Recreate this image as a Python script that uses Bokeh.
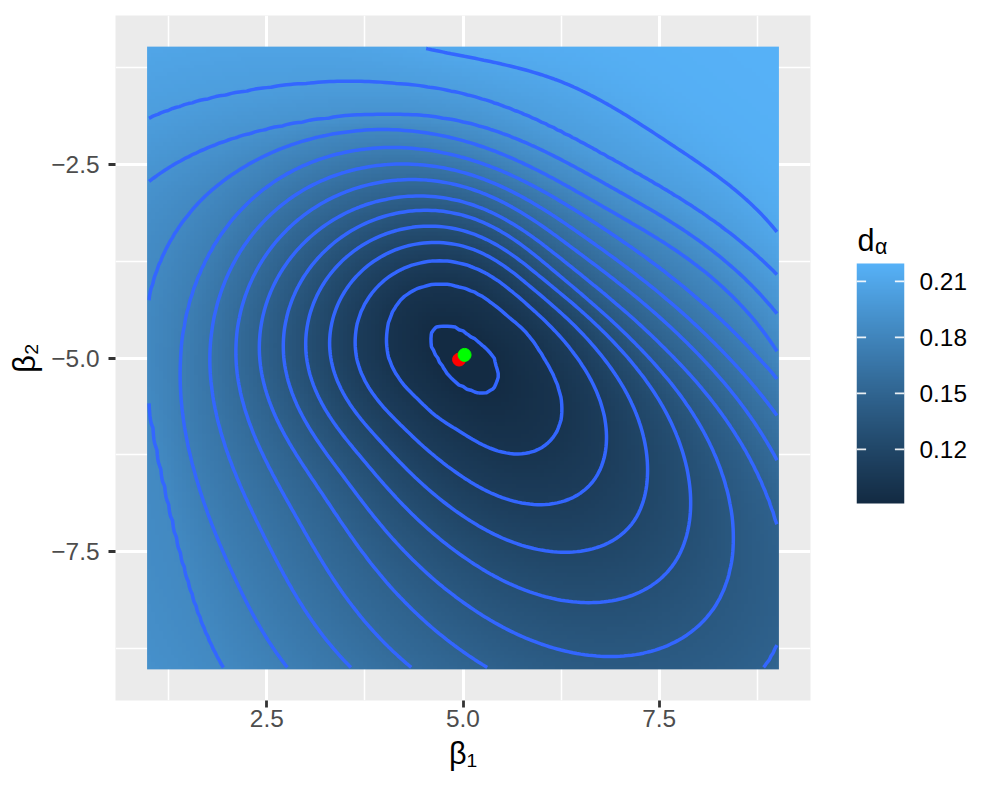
import numpy as np
from bokeh.plotting import figure
from bokeh.models import (Range1d, LinearColorMapper, FixedTicker, LinearAxis,
                          CustomJSTickFormatter, Label)
from bokeh.layouts import row
from bokeh.embed import file_html
from bokeh.resources import INLINE

# ---------------------------------------------------------------- data
BETA1_GRID = (1.0, 9.0)          # beta_1 grid of the surface
BETA2_GRID = (-9.0, -1.0)        # beta_2 grid of the surface
GRID_STEP = 0.05
D_MIN = 0.091
D_MAX = 0.2196
SURFACE_MIN_AT = (5.0, -5.0)     # valley of d_alpha

# contour levels of d_alpha (14 lines)
CONTOUR_LEVELS = [0.0919, 0.1011, 0.1103, 0.1195, 0.1287, 0.1379, 0.1471,
                  0.1563, 0.1655, 0.1747, 0.1839, 0.1931, 0.2023, 0.2115]

# for every contour level: where it was read off the picture, as
# (direction from the valley in degrees, distance from the valley)
LEVEL_ANGLES = [
    [0, 22.5, 45, 67.5, 90, 112.5, 135, 157.5, 180, 202.5, 225, 247.5, 270, 292.5, 315, 337.5],
    [0, 22.5, 45, 67.5, 90, 112.5, 135, 157.5, 180, 202.5, 225, 247.5, 270, 298.7, 315, 331.2],
    [0, 45, 90, 135, 180, 225, 270, 297.3, 315, 328.5],
    [0, 45, 90, 135, 180, 225, 270, 298.5, 315, 327.2],
    [0, 45, 90, 135, 180, 225, 270, 297.1, 315, 326.7],
    [0, 45, 90, 135, 180, 225, 270, 297.3, 315, 323.6],
    [0, 45, 90, 135, 180, 225, 270, 274.4, 295, 315, 322, 329.6],
    [0, 45, 90, 135, 180, 225, 260.5, 290, 315, 341.7],
    [0, 45, 90, 135, 180, 225, 249.7, 270, 315, 349.5],
    [0, 45, 90, 135, 180, 225, 240.3, 270, 315, 356.3],
    [2.4, 42.3, 90, 137.7, 149, 168, 180, 190, 205, 218, 232, 270, 315, 340],
    [8.7, 46.8, 90, 127.8, 149.7, 180, 225, 270, 315, 345],
    [15.4, 51.2, 89.5, 106.6, 120, 131.8, 141.3, 180, 225, 270, 315, 350],
    [0, 23.5, 45.4, 57.8, 71.2, 90.6, 97.8, 135, 180, 225, 270, 315],
]
LEVEL_RADII = [
    [0.40, 0.33, 0.29, 0.30, 0.35, 0.46, 0.54, 0.45, 0.33, 0.29, 0.29, 0.32, 0.38, 0.49, 0.57, 0.48],
    [1.02, 0.88, 0.78, 0.82, 0.91, 1.03, 1.10, 1.04, 0.95, 0.84, 0.78, 0.84, 0.96, 1.43, 1.55, 1.45],
    [1.45, 1.06, 1.22, 1.42, 1.36, 1.17, 1.53, 2.14, 2.33, 2.14],
    [1.78, 1.26, 1.45, 1.70, 1.69, 1.50, 2.03, 2.85, 3.10, 2.78],
    [2.09, 1.44, 1.65, 1.96, 2.00, 1.82, 2.55, 3.55, 3.85, 3.46],
    [2.35, 1.61, 1.85, 2.20, 2.29, 2.15, 3.14, 4.34, 4.60, 4.27],
    [2.67, 1.79, 2.02, 2.45, 2.60, 2.50, 3.79, 4.01, 5.05, 5.62, 5.32, 4.64],
    [3.02, 1.99, 2.22, 2.72, 2.90, 2.95, 4.06, 5.30, 6.00, 4.21],
    [3.36, 2.20, 2.40, 3.00, 3.23, 3.45, 4.26, 4.95, 6.60, 4.07],
    [3.74, 2.43, 2.59, 3.30, 3.60, 4.05, 4.61, 5.60, 7.20, 4.01],
    [4.00, 2.70, 2.81, 3.70, 3.93, 4.09, 4.04, 4.04, 4.15, 4.45, 5.07, 6.30, 7.80, 5.00],
    [4.05, 2.92, 3.06, 3.76, 4.63, 5.20, 6.00, 7.00, 8.40, 5.20],
    [4.15, 3.20, 3.42, 3.71, 4.10, 4.47, 5.12, 6.00, 6.80, 7.70, 9.00, 5.50],
    [4.90, 4.36, 3.80, 3.76, 3.82, 3.92, 4.00, 6.00, 7.00, 7.60, 8.50, 9.70],
]
SMOOTHING = 300.0                # roughness penalty for the level curves

# the two estimates drawn as points
POINT_BETA1 = [4.95, 5.02]
POINT_BETA2 = [-5.02, -4.96]
POINT_COLORS = ["#FF0000", "#00FF00"]

X_TICKS = [2.5, 5.0, 7.5]
X_MINOR = [1.25, 3.75, 6.25, 8.75]
Y_TICKS = [-7.5, -5.0, -2.5]
Y_MINOR = [-8.75, -6.25, -3.75, -1.25]
LEGEND_TICKS = [0.12, 0.15, 0.18, 0.21]

LOW_COLOR, HIGH_COLOR = "#132B43", "#56B1F7"
CONTOUR_COLOR = "#3366FF"
FONT = "Liberation Sans"

# ---------------------------------------------------------------- palette (Lab interpolation, like ggplot)
_M = np.array([[0.4124564, 0.3575761, 0.1804375],
               [0.2126729, 0.7151522, 0.0721750],
               [0.0193339, 0.1191920, 0.9503041]])
_WHITE = np.array([0.95047, 1.0, 1.08883])


def _hex_rgb(h):
    return np.array([int(h[i:i + 2], 16) for i in (1, 3, 5)]) / 255.0


def _to_lab(rgb):
    lin = np.where(rgb <= 0.04045, rgb / 12.92, ((rgb + 0.055) / 1.055) ** 2.4)
    xyz = _M @ lin / _WHITE
    d = 6 / 29
    f = np.where(xyz > d ** 3, np.cbrt(xyz), xyz / (3 * d * d) + 4 / 29)
    return np.array([116 * f[1] - 16, 500 * (f[0] - f[1]), 200 * (f[1] - f[2])])


def _from_lab(lab):
    d = 6 / 29
    fy = (lab[0] + 16) / 116
    f = np.array([fy + lab[1] / 500, fy, fy - lab[2] / 200])
    xyz = np.where(f > d, f ** 3, 3 * d * d * (f - 4 / 29)) * _WHITE
    lin = np.clip(np.linalg.inv(_M) @ xyz, 0, 1)
    rgb = np.where(lin <= 0.0031308, 12.92 * lin, 1.055 * lin ** (1 / 2.4) - 0.055)
    return np.clip(rgb, 0, 1)


_l0, _l1 = _to_lab(_hex_rgb(LOW_COLOR)), _to_lab(_hex_rgb(HIGH_COLOR))
PALETTE = []
for t in np.linspace(0, 1, 256):
    c = _from_lab(_l0 + (_l1 - _l0) * t)
    PALETTE.append("#%02X%02X%02X" % tuple(int(round(v * 255)) for v in c))

# ---------------------------------------------------------------- smooth level curves (penalised fit, 1 degree nodes)
NODES = 360
_D = np.zeros((NODES, NODES))
for _j in range(NODES):
    _D[_j, (_j - 1) % NODES] = 1.0
    _D[_j, _j] = -2.0
    _D[_j, (_j + 1) % NODES] = 1.0
_P = _D.T @ _D


def level_curve(angles, radii):
    B = np.zeros((len(angles), NODES))
    for i, a in enumerate(angles):
        a = a % 360.0
        j = int(np.floor(a))
        f = a - j
        B[i, j % NODES] += 1 - f
        B[i, (j + 1) % NODES] += f
    return np.linalg.solve(B.T @ B + SMOOTHING * _P, B.T @ np.log(np.asarray(radii, float)))


def eval_curve(u, t):
    j = np.floor(t).astype(int) % NODES
    f = t - np.floor(t)
    return np.exp(u[j] * (1 - f) + u[(j + 1) % NODES] * f)


xs = np.round(np.arange(BETA1_GRID[0], BETA1_GRID[1] + GRID_STEP / 2, GRID_STEP), 6)
ys = np.round(np.arange(BETA2_GRID[0], BETA2_GRID[1] + GRID_STEP / 2, GRID_STEP), 6)
XX, YY = np.meshgrid(xs, ys)
DX, DY = XX - SURFACE_MIN_AT[0], YY - SURFACE_MIN_AT[1]
RR = np.hypot(DX, DY)
TH = np.degrees(np.arctan2(DY, DX)) % 360.0

RK = np.stack([eval_curve(level_curve(a, r), TH)
               for a, r in zip(LEVEL_ANGLES, LEVEL_RADII)], axis=-1)
for k in range(1, RK.shape[-1]):
    RK[..., k] = np.maximum(RK[..., k], RK[..., k - 1] + 0.02)

lev = np.array(CONTOUR_LEVELS)
Z = np.empty_like(RR)
inner = RR < RK[..., 0]
Z[inner] = D_MIN + (lev[0] - D_MIN) * (RR[inner] / RK[..., 0][inner]) ** 2
for k in range(len(lev) - 1):
    a, b = RK[..., k], RK[..., k + 1]
    m = (RR >= a) & (RR < b)
    Z[m] = lev[k] + (lev[k + 1] - lev[k]) * (RR[m] - a[m]) / (b[m] - a[m])
outer = RR >= RK[..., -1]
step = (RK[..., -1] - RK[..., -2])[outer]
gain = (lev[-1] - lev[-2]) / (D_MAX - lev[-1])
Z[outer] = lev[-1] + (D_MAX - lev[-1]) * (1 - np.exp(-(RR[outer] - RK[..., -1][outer]) / step * gain))

# ---------------------------------------------------------------- main panel
x_lo, x_hi = BETA1_GRID[0] - GRID_STEP / 2, BETA1_GRID[1] + GRID_STEP / 2
y_lo, y_hi = BETA2_GRID[0] - GRID_STEP / 2, BETA2_GRID[1] + GRID_STEP / 2
X0, X1 = x_lo - 0.05 * (x_hi - x_lo), x_hi + 0.05 * (x_hi - x_lo)
Y0, Y1 = y_lo - 0.05 * (y_hi - y_lo), y_hi + 0.05 * (y_hi - y_lo)

FW, FH = 695, 685
BL, BT, BB, BR = 115, 15, 95, 8

p = figure(frame_width=FW, frame_height=FH, x_range=Range1d(X0, X1), y_range=Range1d(Y0, Y1),
           min_border_left=BL, min_border_right=BR, min_border_top=BT, min_border_bottom=BB,
           toolbar_location=None, output_backend="svg",
           background_fill_color="#EBEBEB", border_fill_color="white", outline_line_color=None)

mapper = LinearColorMapper(palette=PALETTE, low=D_MIN, high=D_MAX)
p.image(image=[Z], x=x_lo, y=y_lo, dw=x_hi - x_lo, dh=y_hi - y_lo, color_mapper=mapper)
p.contour(x=xs, y=ys, z=Z, levels=CONTOUR_LEVELS, line_color=CONTOUR_COLOR, line_width=3.5)
p.scatter(x=POINT_BETA1, y=POINT_BETA2, fill_color=POINT_COLORS, line_color=POINT_COLORS,
          size=13, marker="circle")

p.xaxis.ticker = FixedTicker(ticks=X_TICKS, minor_ticks=X_MINOR)
p.yaxis.ticker = FixedTicker(ticks=Y_TICKS, minor_ticks=Y_MINOR)
fmt = CustomJSTickFormatter(code="return (tick < 0 ? '\u2212' : '') + Math.abs(tick).toFixed(1);")
for ax in (p.xaxis[0], p.yaxis[0]):
    ax.formatter = fmt
    ax.axis_line_color = None
    ax.major_tick_line_color = "#333333"
    ax.major_tick_line_width = 2.8
    ax.major_tick_out = 7
    ax.major_tick_in = 0
    ax.minor_tick_line_color = None
    ax.major_label_text_font = FONT
    ax.major_label_text_font_size = "24.4px"
    ax.major_label_text_color = "#4D4D4D"
    ax.axis_label_text_font = FONT
    ax.axis_label_text_font_size = "30.6px"
    ax.axis_label_text_font_style = "normal"
    ax.axis_label_text_color = "black"
p.xaxis[0].axis_label = "\u03b2\u2081"
p.yaxis[0].axis_label = "\u03b2\u2082"
p.xaxis[0].major_label_standoff = 2
p.yaxis[0].major_label_standoff = 9
p.xaxis[0].axis_label_standoff = 6
p.yaxis[0].axis_label_standoff = 7
for g in (p.xgrid[0], p.ygrid[0]):
    g.grid_line_color = "white"
    g.grid_line_width = 3
    g.minor_grid_line_color = "white"
    g.minor_grid_line_width = 1.5

# ---------------------------------------------------------------- colour bar
LW = 48
LBL = 856 - (BL + FW + BR)
BAR_TOP_IMG, BAR_BOT_IMG = 263, 503
per_px = (D_MAX - D_MIN) / (BAR_BOT_IMG - BAR_TOP_IMG)
LY0 = D_MIN - (BT + FH - BAR_BOT_IMG) * per_px
LY1 = D_MAX + (BAR_TOP_IMG - BT) * per_px
leg = figure(frame_width=LW, frame_height=FH, x_range=Range1d(0, 1), y_range=Range1d(LY0, LY1),
             x_axis_type=None, y_axis_type=None, min_border_left=LBL, min_border_right=91,
             min_border_top=BT, min_border_bottom=BB,
             toolbar_location=None, output_backend="svg",
             background_fill_color="white", border_fill_color="white", outline_line_color=None)
bar = np.linspace(D_MIN, D_MAX, 300).reshape(-1, 1)
leg.image(image=[bar], x=0, y=D_MIN, dw=1, dh=D_MAX - D_MIN, color_mapper=mapper)
n = len(LEGEND_TICKS)
leg.segment(x0=[0] * n, x1=[0.2] * n, y0=LEGEND_TICKS, y1=LEGEND_TICKS, line_color="white",
            line_width=1.6, line_alpha=0.9)
leg.segment(x0=[0.8] * n, x1=[1.0] * n, y0=LEGEND_TICKS, y1=LEGEND_TICKS, line_color="white",
            line_width=1.6, line_alpha=0.9)
lax = LinearAxis(ticker=FixedTicker(ticks=LEGEND_TICKS),
                 formatter=CustomJSTickFormatter(code="return tick.toFixed(2);"),
                 axis_line_color=None, major_tick_line_color=None, minor_tick_line_color=None,
                 major_tick_out=0, major_tick_in=0, major_label_standoff=15,
                 major_label_text_font=FONT, major_label_text_font_size="24.4px",
                 major_label_text_color="black")
leg.add_layout(lax, "right")


def lab(plot, x, y, text, size):
    plot.add_layout(Label(x=x, y=y, text=text, text_font=FONT, text_font_size=size,
                          text_color="black", text_align="left", text_baseline="alphabetic"))


lab(leg, 1.0 / LW, D_MAX + 23.5 * per_px, "d", "30.6px")
lab(leg, 18.5 / LW, D_MAX + 17.0 * per_px, "\u03b1", "21.4px")

layout = row(p, leg)
open("out.html", "w").write(file_html(layout, INLINE))
